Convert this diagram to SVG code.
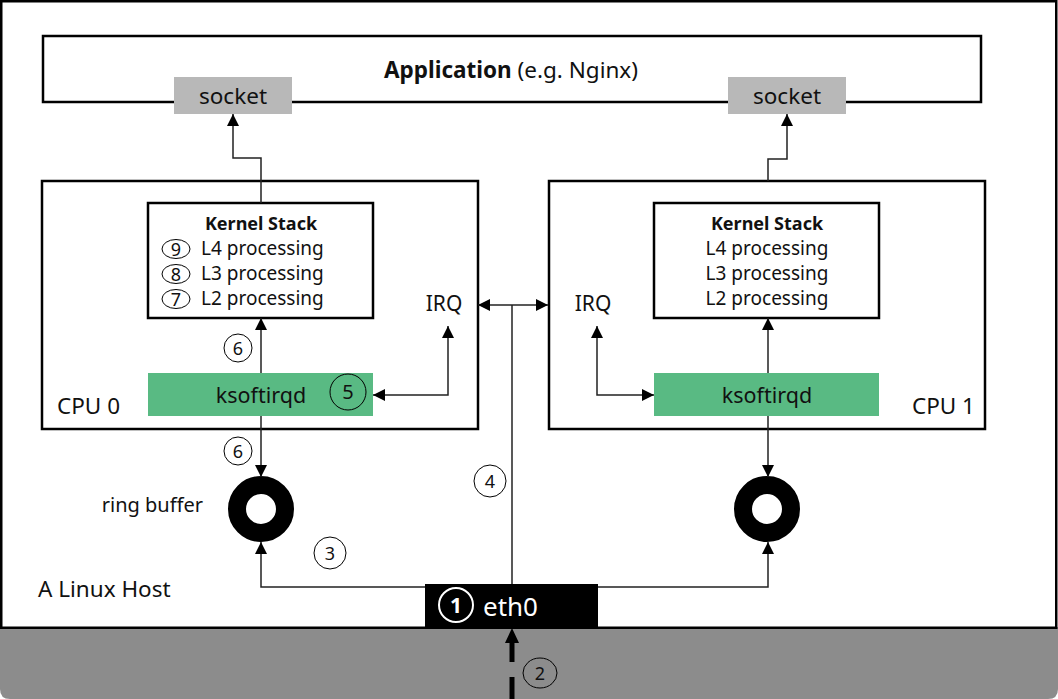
<svg xmlns="http://www.w3.org/2000/svg" width="1058" height="699" viewBox="0 0 1058 699">
<style>
text{font-family:"Noto Sans","Open Sans",sans-serif;fill:#111}
.box{fill:#fff;stroke:#000;stroke-width:2.5}
.sock{fill:#b8b8b8}
.green{fill:#59ba83}
.lbl{font-size:20px}
.ks{font-size:19px;text-anchor:middle}
.kb{font-size:18px;font-weight:bold;text-anchor:middle}
.c{fill:none;stroke:#222;stroke-width:1.5}
.num{fill:none;stroke:#000;stroke-width:1}
.nt{font-size:18px;text-anchor:middle}
.ring{fill:none;stroke:#000;stroke-width:18}
</style>
<defs>
<marker id="ah" viewBox="0 0 12 12" refX="12" refY="6" markerWidth="12" markerHeight="12" markerUnits="userSpaceOnUse" orient="auto-start-reverse">
<path d="M0,0 L12,6 L0,12 z" fill="#000"/>
</marker>
</defs>
<rect width="1058" height="699" fill="#fff"/>
<path d="M0,627 H1058 V689 Q1058,699 1048,699 H10 Q0,699 0,689 Z" fill="#8c8c8c"/>
<g id="host">
<rect x="1.25" y="1.25" width="1055" height="626.5" fill="none" stroke="#000" stroke-width="2.5"/>
<text x="38" y="597" style="font-size:22.5px">A Linux Host</text>
</g>
<g id="application">
<rect class="box" x="43" y="36" width="938" height="66"/>
<text x="511" y="78" text-anchor="middle" style="font-size:22.5px"><tspan font-weight="bold">Application</tspan> (e.g. Nginx)</text>
</g>
<g id="socket0">
<rect class="sock" x="174" y="77" width="118" height="37"/>
<text x="233" y="104" text-anchor="middle" style="font-size:22.5px">socket</text>
</g>
<g id="socket1">
<rect class="sock" x="728" y="77" width="118" height="37"/>
<text x="787" y="104" text-anchor="middle" style="font-size:22.5px">socket</text>
</g>
<g id="cpu0">
<rect class="box" x="42" y="181" width="436" height="248"/>
<text x="57" y="414" style="font-size:22.5px">CPU 0</text>
<text x="444" y="311" text-anchor="middle" style="font-size:21px">IRQ</text>
</g>
<g id="cpu1">
<rect class="box" x="549" y="181" width="436" height="248"/>
<text x="975" y="414" text-anchor="end" style="font-size:22.5px">CPU 1</text>
<text x="593" y="311" text-anchor="middle" style="font-size:21px">IRQ</text>
</g>
<g id="kernel0">
<rect class="box" x="148" y="203" width="225" height="115" stroke-width="2"/>
<text x="261" y="230" class="kb">Kernel Stack</text>
<text x="201" y="255" class="ks" style="text-anchor:start">L4 processing</text>
<text x="201" y="280" class="ks" style="text-anchor:start">L3 processing</text>
<text x="201" y="305" class="ks" style="text-anchor:start">L2 processing</text>
<ellipse class="num" cx="176" cy="249" rx="14" ry="9.5"/>
<text x="176" y="255.5" class="nt">9</text>
<ellipse class="num" cx="176" cy="274" rx="14" ry="9.5"/>
<text x="176" y="280.5" class="nt">8</text>
<ellipse class="num" cx="176" cy="299" rx="14" ry="9.5"/>
<text x="176" y="305.5" class="nt">7</text>
</g>
<g id="kernel1">
<rect class="box" x="654" y="203" width="225" height="115" stroke-width="2"/>
<text x="767" y="230" class="kb">Kernel Stack</text>
<text x="767" y="255" class="ks">L4 processing</text>
<text x="767" y="280" class="ks">L3 processing</text>
<text x="767" y="305" class="ks">L2 processing</text>
</g>
<g id="ksoftirqd0">
<rect class="green" x="148" y="373" width="225" height="43"/>
<text x="261" y="403" text-anchor="middle" style="font-size:21.5px">ksoftirqd</text>
</g>
<g id="ksoftirqd1">
<rect class="green" x="654" y="373" width="225" height="43"/>
<text x="767" y="403" text-anchor="middle" style="font-size:21.5px">ksoftirqd</text>
</g>
<g id="ring0">
<circle class="ring" cx="261" cy="509" r="24"/>
<text x="203" y="512" text-anchor="end" class="lbl">ring buffer</text>
</g>
<g id="ring1">
<circle class="ring" cx="767" cy="509" r="24"/>
</g>
<g id="eth0">
<rect x="425" y="584" width="173" height="43" fill="#000"/>
<circle cx="456" cy="605" r="17" fill="none" stroke="#fff" stroke-width="2"/>
<text x="456" y="613" text-anchor="middle" style="font-size:21px;font-weight:bold;fill:#fff">1</text>
<text x="483" y="616" style="font-size:26px;fill:#fff">eth0</text>
</g>
<g id="connectors">
<polyline class="c" points="261,203 261,158 233,158 233,114" marker-end="url(#ah)"/>
<polyline class="c" points="768,181 768,159 787,159 787,114" marker-end="url(#ah)"/>
<line class="c" x1="261" y1="373" x2="261" y2="318" marker-end="url(#ah)"/>
<line class="c" x1="768" y1="373" x2="768" y2="318" marker-end="url(#ah)"/>
<line class="c" x1="261" y1="416" x2="261" y2="477" marker-end="url(#ah)"/>
<line class="c" x1="768" y1="416" x2="768" y2="477" marker-end="url(#ah)"/>
<polyline class="c" points="373,395 448,395 448,326" marker-start="url(#ah)" marker-end="url(#ah)"/>
<polyline class="c" points="597,326 597,395 654,395" marker-start="url(#ah)" marker-end="url(#ah)"/>
<line class="c" x1="478" y1="305" x2="548" y2="305" marker-start="url(#ah)" marker-end="url(#ah)"/>
<line class="c" x1="512" y1="584" x2="512" y2="305"/>
<polyline class="c" points="425,587 261,587 261,542" marker-end="url(#ah)"/>
<polyline class="c" points="598,587 768,587 768,542" marker-end="url(#ah)"/>
<line x1="512" y1="699" x2="512" y2="641" stroke="#000" stroke-width="5" stroke-dasharray="22 15"/>
<polygon points="512,628 505,643 519,643" fill="#000"/>
</g>
<g id="labels">
<circle class="num" cx="238" cy="348" r="14"/>
<text x="238" y="354.5" class="nt">6</text>
<circle class="num" cx="348" cy="392" r="18" stroke-width="1.2"/>
<text x="348" y="399" class="nt" style="font-size:20px">5</text>
<circle class="num" cx="238" cy="451" r="14"/>
<text x="238" y="457.5" class="nt">6</text>
<circle class="num" cx="490" cy="481" r="16"/>
<text x="490" y="487.5" class="nt">4</text>
<circle class="num" cx="330" cy="553" r="16"/>
<text x="330" y="559.5" class="nt">3</text>
<ellipse class="num" cx="540" cy="673" rx="17" ry="15"/>
<text x="540" y="679.5" class="nt">2</text>
</g>
</svg>
